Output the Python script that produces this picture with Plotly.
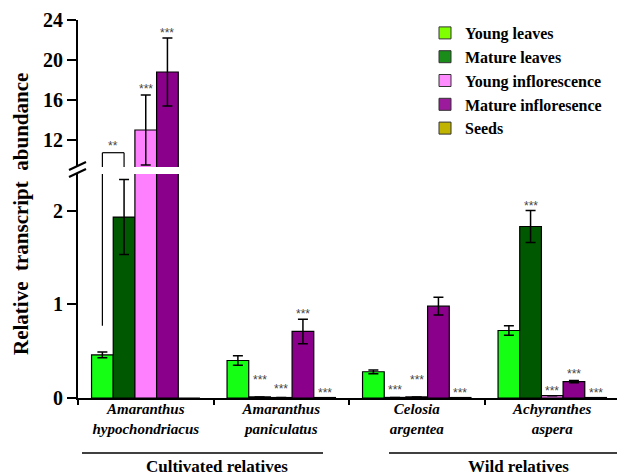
import plotly.graph_objects as go

# ---------------- data ----------------
categories = ["Amaranthus hypochondriacus", "Amaranthus paniculatus",
              "Celosia argentea", "Achyranthes aspera"]
tick_labels = ["<b><i>Amaranthus<br>hypochondriacus</i></b>",
               "<b><i>Amaranthus<br>paniculatus</i></b>",
               "<b><i>Celosia<br>argentea</i></b>",
               "<b><i>Achyranthes<br>aspera</i></b>"]

series_names = ["Young leaves", "Mature leaves", "Young inflorescence",
                "Mature infloresence", "Seeds"]

young_leaves = [0.46, 0.40, 0.28, 0.72]
young_leaves_err = [0.03, 0.05, 0.02, 0.05]
mature_leaves = [1.93, 0.012, 0.006, 1.83]
mature_leaves_err = [0.40, None, None, 0.17]
young_infl = [13.0, 0.005, 0.012, 0.025]
young_infl_err = [3.5, None, None, None]
mature_infl = [18.8, 0.71, 0.98, 0.175]
mature_infl_err = [3.4, 0.13, 0.095, 0.012]
seeds = [0.0, 0.005, 0.005, 0.005]
seeds_err = [None, None, None, None]

# significance labels per series / category
young_leaves_sig = ["", "", "", ""]
mature_leaves_sig = ["", "***", "***", "***"]
young_infl_sig = ["***", "***", "***", "***"]
mature_infl_sig = ["***", "***", "", "***"]
seeds_sig = ["", "***", "***", "***"]

bracket_label = "**"

group_labels = ["Cultivated relatives", "Wild relatives"]
y_title = "Relative&nbsp; transcript&nbsp; abundance"

# ---------------- style ----------------
bar_colors = ["#14FF14", "#005800", "#FF80FF", "#8B008B", "#B8B000"]
legend_colors = ["#80FF00", "#1A8C1A", "#FF8CFF", "#9C1A9C", "#C0B400"]
# pixel lift of the star labels above the bar/error top
star_lift = {
    1: [0, 18, 8, 6],
    2: [7, 10, 18, 6],
    3: [6, 6, 0, 7],
    4: [0, 6, 6, 6],
}
SERIF = "Liberation Serif"

values = [young_leaves, mature_leaves, young_infl, mature_infl, seeds]
errors = [young_leaves_err, mature_leaves_err, young_infl_err, mature_infl_err, seeds_err]
sigs = [young_leaves_sig, mature_leaves_sig, young_infl_sig, mature_infl_sig, seeds_sig]

LOW_RANGE = [0, 2.39]
HIGH_RANGE = [9.3, 24]
BARGAP = 0.2
nser = len(series_names)
bw = (1 - BARGAP) / nser  # width of one bar in category units

fig = go.Figure()
for xa, ya in (("x", "y"), ("x2", "y2")):
    for i, name in enumerate(series_names):
        err = errors[i]
        has_err = any(e is not None for e in err)
        fig.add_trace(go.Bar(
            x=categories, y=values[i], name=name, xaxis=xa, yaxis=ya,
            marker=dict(color=bar_colors[i], line=dict(color="black", width=1.2)),
            error_y=dict(type="data", array=[e if e is not None else 0 for e in err],
                         color="black", thickness=1.5, width=5,
                         visible=has_err),
            showlegend=False,
        ))

# legend-only traces (on hidden axes so they don't affect bar grouping)
for i, name in enumerate(series_names):
    fig.add_trace(go.Bar(x=[None], y=[None], name=name, xaxis="x3", yaxis="y3",
                         marker=dict(color=legend_colors[i],
                                     line=dict(color="#333333", width=1))))

# significance stars
annotations = []
for i in range(nser):
    for j, cat in enumerate(categories):
        s = sigs[i][j]
        if not s:
            continue
        top = values[i][j] + (errors[i][j] or 0)
        xpos = j + (i - (nser - 1) / 2) * bw
        ya = "y2" if top > HIGH_RANGE[0] else "y"
        annotations.append(dict(
            x=xpos, y=top, xref="x", yref=ya, text=s, showarrow=False,
            yanchor="middle", yshift=(star_lift[i][j] if i in star_lift else 6) - 1,
            font=dict(family="Arial", size=12, color="#444444")))

# bracket between young and mature leaves of first category
x_left = 0 + (0 - (nser - 1) / 2) * bw
x_right = 0 + (1 - (nser - 1) / 2) * bw
bracket_top = 10.73
left_base = young_leaves[0] + young_leaves_err[0] + 0.28
shapes = [
    dict(type="line", xref="x", yref="y", x0=x_left, x1=x_left, y0=left_base, y1=LOW_RANGE[1],
         line=dict(color="black", width=1.2)),
    dict(type="line", xref="x2", yref="y2", x0=x_left, x1=x_left, y0=HIGH_RANGE[0], y1=bracket_top,
         line=dict(color="black", width=1.2)),
    dict(type="line", xref="x2", yref="y2", x0=x_left, x1=x_right, y0=bracket_top, y1=bracket_top,
         line=dict(color="black", width=1.2)),
    dict(type="line", xref="x2", yref="y2", x0=x_right, x1=x_right, y0=HIGH_RANGE[0], y1=bracket_top,
         line=dict(color="black", width=1.2)),
]
annotations.append(dict(x=(x_left + x_right) / 2, y=bracket_top, xref="x2", yref="y2",
                        text=bracket_label, showarrow=False, yanchor="middle", yshift=7,
                        font=dict(family="Arial", size=12, color="#444444")))

# layout geometry (reference pixels -> paper); page body has an 8px margin
W, H = 625, 476
BODY = 8
ML, MR, MT, MB = 78, 5, 20, 78
PW, PH = W - ML - MR, H - MT - MB
FW, FH = W - BODY, H - BODY


def px(xp):
    return (xp - ML) / PW


def py(yp):
    return (H - MB - yp) / PH


low_top = py(174)
high_bot = py(167)

# axis break marks
for y0p in (170, 177):
    shapes.append(dict(type="line", xref="paper", yref="paper",
                       x0=px(69), x1=px(86), y0=py(y0p), y1=py(y0p - 8),
                       line=dict(color="black", width=2)))

# group lines and labels
group_spans = [(82, 323), (389, 630)]
group_text_x = [217, 518]
for (a, b), tx, lab in zip(group_spans, group_text_x, group_labels):
    shapes.append(dict(type="line", xref="paper", yref="paper", x0=px(a), x1=px(b),
                       y0=py(453), y1=py(453), line=dict(color="black", width=1.5)))
    annotations.append(dict(x=px(tx), y=py(466), xref="paper", yref="paper", text=f"<b>{lab}</b>",
                            showarrow=False, xanchor="center", yanchor="middle",
                            font=dict(family=SERIF, size=17, color="black")))

annotations.append(dict(x=px(21), y=py(214), xref="paper", yref="paper", text=f"<b>{y_title}</b>",
                        showarrow=False, textangle=-90, xanchor="center", yanchor="middle",
                        font=dict(family=SERIF, size=21, color="black")))

yaxis_common = dict(ticks="outside", ticklen=9, tickwidth=2, tickcolor="black",
                    showline=True, linewidth=2, linecolor="black", showgrid=False,
                    zeroline=False, automargin=False,
                    tickfont=dict(family=SERIF, size=20, color="black", weight="bold"))

fig.update_layout(
    width=FW, height=FH,
    margin=dict(l=ML - BODY, r=MR, t=MT - BODY, b=MB, autoexpand=False),
    paper_bgcolor="white", plot_bgcolor="white",
    barmode="group", bargap=BARGAP, bargroupgap=0,
    font=dict(family=SERIF, color="black"),
    xaxis=dict(anchor="y", domain=[0, 1], range=[-0.5, 3.5], tickson="boundaries",
               tickmode="array", tickvals=categories, ticktext=tick_labels, tickangle=0,
               ticks="outside", ticklen=5, tickwidth=2, tickcolor="black",
               showline=True, linewidth=2, linecolor="black", showgrid=False,
               automargin=False, ticklabelstandoff=-4,
               tickfont=dict(family=SERIF, size=15, color="black")),
    xaxis2=dict(anchor="y2", matches="x", visible=False, showgrid=False),
    yaxis=dict(domain=[0, low_top], range=LOW_RANGE, tickvals=[0, 1, 2], **yaxis_common),
    yaxis2=dict(domain=[high_bot, 1], range=HIGH_RANGE, tickvals=[12, 16, 20, 24], **yaxis_common),
    xaxis3=dict(visible=False, domain=[0, 0.01], anchor="y3"),
    yaxis3=dict(visible=False, domain=[0, 0.01], anchor="x3"),
    legend=dict(xref="container", yref="container", x=(425 - BODY) / FW, y=1 - (16 - BODY) / FH,
                xanchor="left", yanchor="top", bgcolor="rgba(0,0,0,0)",
                font=dict(family=SERIF, size=16, color="black", weight="bold"), itemwidth=30,
                traceorder="normal"),
    shapes=shapes, annotations=annotations,
)

fig.write_html("out.html")
